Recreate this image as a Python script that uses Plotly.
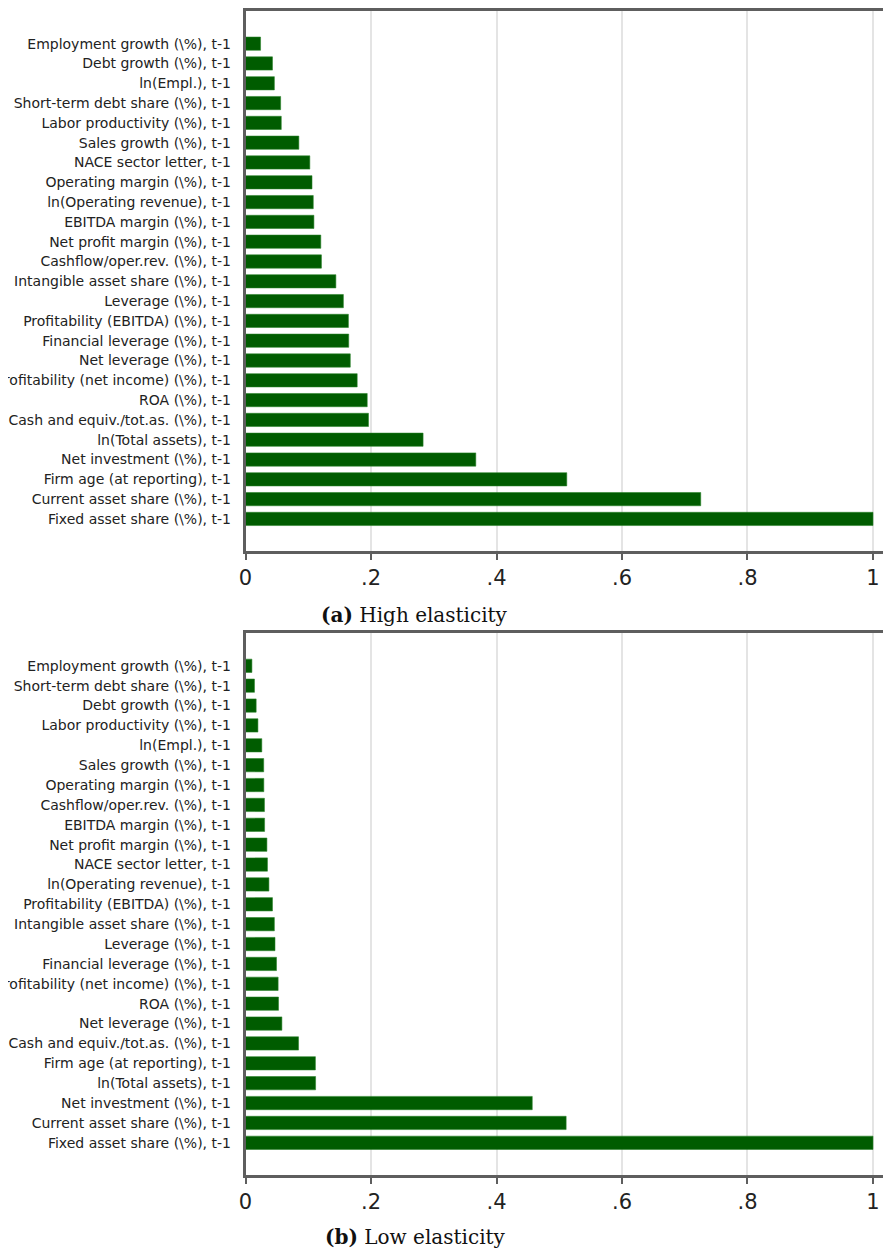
import plotly.graph_objects as go

# The page body adds an 8px margin, so the figure is 8px smaller and all
# reference pixel positions are shifted by -8.
OFF = 8
W, H = 891 - OFF, 1249 - OFF

# ---- data (top-to-bottom order as shown) ----
high_labels = [
    "Employment growth (\\%), t-1", "Debt growth (\\%), t-1", "ln(Empl.), t-1",
    "Short-term debt share (\\%), t-1", "Labor productivity (\\%), t-1",
    "Sales growth (\\%), t-1", "NACE sector letter, t-1", "Operating margin (\\%), t-1",
    "ln(Operating revenue), t-1", "EBITDA margin (\\%), t-1", "Net profit margin (\\%), t-1",
    "Cashflow/oper.rev. (\\%), t-1", "Intangible asset share (\\%), t-1", "Leverage (\\%), t-1",
    "Profitability (EBITDA) (\\%), t-1", "Financial leverage (\\%), t-1",
    "Net leverage (\\%), t-1", "Profitability (net income) (\\%), t-1", "ROA (\\%), t-1",
    "Cash and equiv./tot.as. (\\%), t-1", "ln(Total assets), t-1", "Net investment (\\%), t-1",
    "Firm age (at reporting), t-1", "Current asset share (\\%), t-1", "Fixed asset share (\\%), t-1",
]
high_values = [0.024, 0.043, 0.046, 0.056, 0.057, 0.085, 0.1025, 0.106, 0.108, 0.109,
               0.120, 0.121, 0.144, 0.156, 0.164, 0.1645, 0.167, 0.178, 0.194, 0.196,
               0.283, 0.367, 0.512, 0.7255, 1.0]

low_labels = [
    "Employment growth (\\%), t-1", "Short-term debt share (\\%), t-1", "Debt growth (\\%), t-1",
    "Labor productivity (\\%), t-1", "ln(Empl.), t-1", "Sales growth (\\%), t-1",
    "Operating margin (\\%), t-1", "Cashflow/oper.rev. (\\%), t-1", "EBITDA margin (\\%), t-1",
    "Net profit margin (\\%), t-1", "NACE sector letter, t-1", "ln(Operating revenue), t-1",
    "Profitability (EBITDA) (\\%), t-1", "Intangible asset share (\\%), t-1", "Leverage (\\%), t-1",
    "Financial leverage (\\%), t-1", "Profitability (net income) (\\%), t-1", "ROA (\\%), t-1",
    "Net leverage (\\%), t-1", "Cash and equiv./tot.as. (\\%), t-1", "Firm age (at reporting), t-1",
    "ln(Total assets), t-1", "Net investment (\\%), t-1", "Current asset share (\\%), t-1",
    "Fixed asset share (\\%), t-1",
]
low_values = [0.0102, 0.0143, 0.017, 0.0198, 0.026, 0.029, 0.0292, 0.0302, 0.0304, 0.0341,
              0.035, 0.0373, 0.043, 0.046, 0.047, 0.0494, 0.052, 0.0526, 0.058, 0.0845,
              0.1114, 0.1117, 0.457, 0.511, 1.0]

x_tickvals = [0, 0.2, 0.4, 0.6, 0.8, 1.0]
x_ticktext = ["0", ".2", ".4", ".6", ".8", "1"]

captions = ["<b>(a)</b> High elasticity", "<b>(b)</b> Low elasticity"]

# ---- style ----
BAR = "rgb(0,92,0)"
AXC = "#5e5e5e"
GRID = "#e4e4e4"

def px_x(px):
    return (px - OFF) / W

def px_y(px):
    return 1 - (px - OFF) / H

left = px_x(245.5)
domains = [[px_y(551), px_y(11)], [px_y(1175), px_y(633)]]
cap_pos = [(px_x(414), px_y(615)), (px_x(415), px_y(1237))]

fig = go.Figure()
panels = [(high_labels, high_values), (low_labels, low_values)]
for i, (labs, vals) in enumerate(panels):
    xa = "x" if i == 0 else "x2"
    ya = "y" if i == 0 else "y2"
    fig.add_trace(go.Bar(
        x=vals, y=labs, orientation="h", xaxis=xa, yaxis=ya,
        marker=dict(color=BAR, line=dict(color="rgba(40,130,40,0.7)", width=0.8)),
        showlegend=False, hoverinfo="x+y",
    ))
    n = len(labs)
    xkey = "xaxis" if i == 0 else "xaxis2"
    ykey = "yaxis" if i == 0 else "yaxis2"
    fig.layout[xkey] = dict(
        domain=[left, 1], anchor=ya, range=[0, 1.0287],
        showgrid=True, gridcolor=GRID, gridwidth=2,
        zeroline=False, showline=True, linecolor=AXC, linewidth=2.5, mirror=True,
        ticks="outside", ticklen=6, tickwidth=2, tickcolor=AXC,
        tickvals=x_tickvals, ticktext=x_ticktext,
        tickfont=dict(family="DejaVu Sans", size=21, color="#222"),
        automargin=False, fixedrange=True,
    )
    fig.layout[ykey] = dict(
        domain=domains[i], anchor=xa, type="category",
        categoryorder="array", categoryarray=list(reversed(labs)),
        range=[-1.62, n - 1 + 1.65],
        showgrid=False, zeroline=False, showline=True, linecolor=AXC, linewidth=2.5,
        ticks="", ticklabelstandoff=9,
        tickfont=dict(family="DejaVu Sans", size=14, color="#222"),
        automargin=False, fixedrange=True,
    )
    fig.add_annotation(
        text=captions[i], x=cap_pos[i][0], y=cap_pos[i][1], xref="paper", yref="paper",
        xanchor="center", yanchor="middle", showarrow=False,
        font=dict(family="DejaVu Serif", size=20, color="#111"),
    )

fig.update_layout(
    width=W, height=H, margin=dict(l=0, r=0, t=0, b=0),
    paper_bgcolor="white", plot_bgcolor="white", bargap=0.33,
)

fig.write_html("out.html")
